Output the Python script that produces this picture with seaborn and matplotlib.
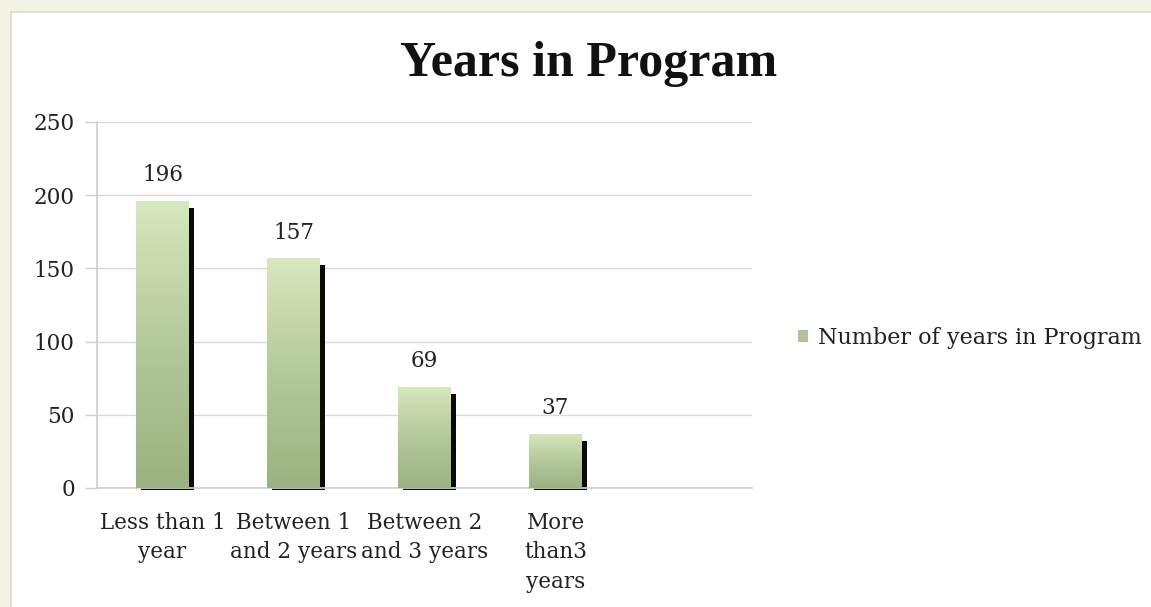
import numpy as np
import pandas as pd
import matplotlib
matplotlib.use("Agg")
import matplotlib.pyplot as plt
import matplotlib.transforms as mtransforms
from matplotlib.patches import Rectangle
import seaborn as sns

# Chart data
categories = ["Less than 1\nyear", "Between 1\nand 2 years", "Between 2\nand 3 years", "More\nthan3\nyears"]
counts = [196, 157, 69, 37]
series_name = "Number of years in Program"
y_ticks = [0, 50, 100, 150, 200, 250]
title = "Years in Program"

sns.set_theme(style="white")
plt.rcParams["font.family"] = ["DejaVu Serif"]
TXT = 15.5

df = pd.DataFrame({"category": categories, "count": counts})

W, H, DPI = 1151, 607, 100
fig = plt.figure(figsize=(W / DPI, H / DPI), dpi=DPI)
fig.patch.set_facecolor("#f4f2e2")

# White chart panel with thin border
panel = Rectangle((11 / W, -0.1), 1.2, 0.1 + (H - 12) / H, transform=fig.transFigure,
                  facecolor="white", edgecolor="#dcdcc8", linewidth=1.2, zorder=-1)
fig.patches.append(panel)

ax = fig.add_axes([97 / W, 1 - 488 / H, (752 - 97) / W, (488 - 122) / H])
ax.set_zorder(2)
ax.set_facecolor("none")

sns.barplot(data=df, x="category", y="count", order=categories, width=0.4,
            color="#b6c99c", ax=ax, zorder=3, saturation=1)

n_slots = len(categories) + 1
ax.set_xlim(-0.5, n_slots - 0.5)
ax.set_ylim(0, 250)
ax.set_yticks(y_ticks)
ax.yaxis.grid(True, color="#d9d9d9", linewidth=1.0, zorder=0)
ax.set_axisbelow(True)

for s in ["top", "right"]:
    ax.spines[s].set_visible(False)
ax.spines["left"].set_color("#d0d0d0")
ax.spines["bottom"].set_color("#d0d0d0")

ax.set_xlabel("")
ax.set_ylabel("")

# Category labels at slot centres, tick marks at slot boundaries
ax.set_xticks(range(len(categories)))
ax.set_xticklabels(categories, fontsize=TXT, color="#222222", linespacing=1.45)
ax.tick_params(axis="x", which="major", length=0, pad=17)
ax.set_xticks(np.arange(-0.5, n_slots, 1.0), minor=True)
ax.tick_params(axis="x", which="minor", length=8, color="#d0d0d0", width=1)
ax.tick_params(axis="y", length=9, color="#d0d0d0", width=1, labelsize=TXT,
               labelcolor="#222222", pad=7, left=True)

# Gradient fill with a dark drop shadow on each bar
grad = np.linspace(0, 1, 256).reshape(-1, 1)
cmap = matplotlib.colors.LinearSegmentedColormap.from_list(
    "bar", ["#9ab281", "#b3c89b", "#d6e8bd"])
shadow_shift = mtransforms.ScaledTranslation(5 / DPI, -2 / DPI, fig.dpi_scale_trans)
for patch, val in zip(ax.patches, counts):
    x0, w = patch.get_x(), patch.get_width()
    shadow = Rectangle((x0, 0), w, val - 3.5, facecolor="#0a0a0a", edgecolor="none",
                       transform=ax.transData + shadow_shift, zorder=2, clip_on=False)
    ax.add_patch(shadow)
    im = ax.imshow(grad, extent=(x0, x0 + w, 0, val), origin="lower", cmap=cmap,
                   aspect="auto", zorder=3.5, interpolation="bicubic")
    im.set_clip_path(patch)
    patch.set_facecolor("none")
    patch.set_edgecolor("none")
    ax.text(x0 + w / 2, val + 10, str(val), ha="center", va="bottom",
            fontsize=TXT, color="#222222", zorder=5)

ax.set_xlim(-0.5, n_slots - 0.5)
ax.set_ylim(0, 250)

fig.text(589 / W, 1 - 64 / H, title, ha="center", va="center",
         fontsize=36, fontweight="bold", color="#111111",
         family=["Liberation Serif", "DejaVu Serif"])

# Legend entry
legend_handle = Rectangle((0, 0), 1, 1, facecolor="#b3c19c", edgecolor="none")
fig.legend([legend_handle], [series_name], loc="center left",
           bbox_to_anchor=(778 / W, 1 - 338 / H), frameon=False,
           fontsize=16, handlelength=0.45, handleheight=0.45, handletextpad=0.45,
           labelcolor="#222222")

fig.savefig("out.png", dpi=DPI, facecolor=fig.get_facecolor())
